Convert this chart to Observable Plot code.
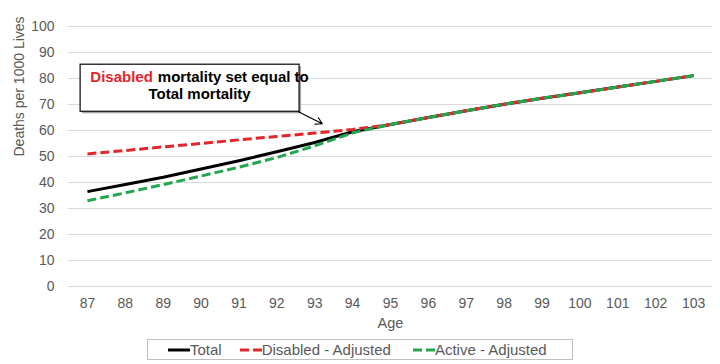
<!DOCTYPE html>
<html>
<head>
<meta charset="utf-8">
<script src="https://cdn.jsdelivr.net/npm/d3@7"></script>
<script src="https://cdn.jsdelivr.net/npm/@observablehq/plot@0.6"></script>
<style>
  html, body { margin: 0; padding: 0; background: #fff; }
  #wrap { position: relative; width: 720px; height: 364px; font-family: "Liberation Sans", Arial, sans-serif; }
  #legend { position: absolute; left: 147px; top: 339px; width: 424px; height: 19px; border: 1px solid #bfbfbf;
            display: flex; align-items: center; font-size: 15px; color: #595959; box-sizing: content-box; }
  #legend .item { display: flex; align-items: center; }
  #legend svg { display: block; }
</style>
</head>
<body>
<div id="wrap"></div>
<script>
// ---- data ----
const ages = [87, 88, 89, 90, 91, 92, 93, 94, 95, 96, 97, 98, 99, 100, 101, 102, 103];
const total = [36.5, 39.2, 42.0, 45.2, 48.4, 51.8, 55.4, 59.5, 62.3, 65.0, 67.6, 70.1, 72.4, 74.5, 76.7, 78.9, 81.1];
const disabledAdj = [51.0, 52.3, 53.7, 55.0, 56.4, 57.7, 59.0, 60.4, 62.3, 65.0, 67.6, 70.1, 72.4, 74.5, 76.7, 78.9, 81.1];
const activeAdj = [33.0, 36.0, 39.2, 42.5, 45.9, 49.6, 54.1, 59.1, 62.3, 65.0, 67.6, 70.1, 72.4, 74.5, 76.7, 78.9, 81.1];
const seriesNames = ["Total", "Disabled - Adjusted", "Active - Adjusted"];
const seriesColors = ["#000000", "#e3262b", "#22a64e"];
const seriesDash = [null, "9,4", "9,4"];
const yTicks = [0, 10, 20, 30, 40, 50, 60, 70, 80, 90, 100];
const xLabel = "Age";
const yLabel = "Deaths per 1000 Lives";
const noteRed = "Disabled";
const noteLine1 = "mortality set equal to";
const noteLine2 = "Total mortality";
// annotation placement in data units
const noteBox = {x1: 86.82, x2: 92.6, y1: 67.2, y2: 85.3};
const noteArrow = {x1: 92.57, y1: 67.2, x2: 93.2, y2: 62.6};
const noteCenterX = 89.96, noteSplitX = 88.78, noteY1 = 80.6, noteY2 = 74.1;

const seriesValues = [total, disabledAdj, activeAdj];
const rows = seriesNames.flatMap((s, i) => ages.map((a, j) => ({series: s, idx: i, age: a, value: seriesValues[i][j]})));

const lineMarks = seriesNames.map((s, i) =>
  Plot.line(rows.filter(d => d.series === s), {
    x: "age", y: "value", stroke: seriesColors[i], strokeWidth: 3,
    strokeDasharray: seriesDash[i] || undefined, strokeLinecap: "butt"
  })
);

const chart = Plot.plot({
  width: 720,
  height: 336,
  marginLeft: 68,
  marginRight: 8,
  marginTop: 26,
  marginBottom: 50,
  style: {fontFamily: "'Liberation Sans', Arial, sans-serif", fontSize: "14px", color: "#595959", background: "#fff"},
  x: {domain: [86.5, 103.5], label: null},
  y: {domain: [0, 100], label: null},
  marks: [
    Plot.gridY(yTicks, {stroke: "#d9d9d9", strokeOpacity: 1, strokeWidth: 1}),
    Plot.axisY(yTicks, {tickSize: 0, tickPadding: 14, fontSize: 14, fill: "#595959", label: null}),
    Plot.axisX(ages, {tickSize: 0, tickPadding: 12, fontSize: 14, fill: "#595959", label: null}),
    Plot.text([xLabel], {frameAnchor: "bottom", dy: 37, lineAnchor: "middle", fontSize: 14.5, fill: "#595959"}),
    Plot.text([yLabel], {frameAnchor: "left", dx: -49, rotate: -90, lineAnchor: "middle", fontSize: 14, fill: "#595959"}),
    ...lineMarks,
    // annotation box with shadow
    Plot.rect([noteBox], {x1: "x1", x2: "x2", y1: "y1", y2: "y2", fill: "#a6a6a6", dx: 2, dy: 2}),
    Plot.rect([noteBox], {x1: "x1", x2: "x2", y1: "y1", y2: "y2", fill: "#fff", stroke: "#1a1a1a", strokeWidth: 1.3}),
    Plot.text([noteRed], {x: noteSplitX, y: noteY1, dx: -2, textAnchor: "end", lineAnchor: "middle", fill: "#e3262b", fontWeight: "bold", fontSize: 15}),
    Plot.text([noteLine1], {x: noteSplitX, y: noteY1, dx: 3, textAnchor: "start", lineAnchor: "middle", fill: "#000", fontWeight: "bold", fontSize: 15}),
    Plot.text([noteLine2], {x: noteCenterX, y: noteY2, textAnchor: "middle", lineAnchor: "middle", fill: "#000", fontWeight: "bold", fontSize: 15}),
    Plot.arrow([noteArrow], {x1: "x1", y1: "y1", x2: "x2", y2: "y2", stroke: "#000", strokeWidth: 1.2, headLength: 9})
  ]
});

const wrap = document.getElementById("wrap");
wrap.appendChild(chart);

// legend below the SVG
const legend = document.createElement("div");
legend.id = "legend";
const gaps = [20, 18, 22];
seriesNames.forEach((s, i) => {
  const item = document.createElement("div");
  item.className = "item";
  item.style.marginLeft = gaps[i] + "px";
  const sw = d3.create("svg").attr("width", 22).attr("height", 6);
  sw.append("line").attr("x1", 0).attr("x2", 22).attr("y1", 3).attr("y2", 3)
    .attr("stroke", seriesColors[i]).attr("stroke-width", 3)
    .attr("stroke-dasharray", seriesDash[i]);
  item.appendChild(sw.node());
  const t = document.createElement("span");
  t.textContent = s;
  item.appendChild(t);
  legend.appendChild(item);
});
wrap.appendChild(legend);
</script>
</body>
</html>
